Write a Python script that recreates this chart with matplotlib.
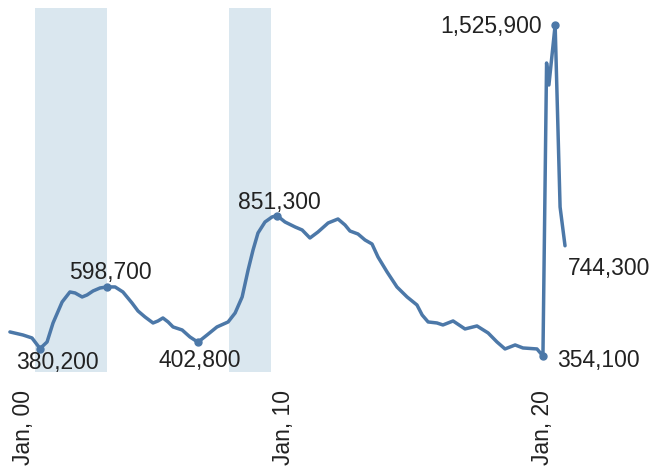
import matplotlib
matplotlib.use("Agg")
import matplotlib.pyplot as plt

# dates as decimal years
dates = [1999.48, 1999.98, 2000.33, 2000.64, 2000.91, 2001.14, 2001.49, 2001.79,
         2001.99, 2002.26, 2002.45, 2002.68, 2002.95, 2003.22, 2003.53, 2003.83,
         2004.18, 2004.41, 2004.68, 2004.99, 2005.18, 2005.37, 2005.57, 2005.76,
         2006.11, 2006.41, 2006.72, 2007.07, 2007.45, 2007.88, 2008.15, 2008.42,
         2008.65, 2008.84, 2009.03, 2009.30, 2009.57, 2009.76, 2010.07, 2010.46,
         2010.73, 2011.03, 2011.34, 2011.73, 2012.11, 2012.38, 2012.57, 2012.88,
         2013.15, 2013.42, 2013.65, 2014.00, 2014.38, 2014.77, 2015.15, 2015.35,
         2015.58, 2015.92, 2016.15, 2016.54, 2017.00, 2017.46, 2017.89, 2018.23,
         2018.54, 2018.93, 2019.23, 2019.77, 2020.00, 2020.14, 2020.23, 2020.47,
         2020.66, 2020.85]
values = [439100, 428400, 417800, 380200, 403700, 470900, 545300, 580700,
          577100, 563000, 570100, 584200, 594800, 598700, 598400, 580700,
          541700, 513400, 492200, 470900, 478000, 488600, 474500, 456800,
          446100, 421400, 402800, 428400, 456800, 474500, 506300, 563000,
          658600, 729400, 789500, 828500, 846200, 851300, 828500, 810800,
          800200, 771800, 793100, 825000, 839100, 817900, 796600, 786000,
          764800, 750600, 704600, 651500, 598400, 563000, 534700, 499200,
          474500, 470900, 463800, 478000, 449700, 460300, 435500, 403700,
          378900, 393000, 382400, 378900, 354100, 1391400, 1313500, 1525900,
          881600, 744300]

# shaded periods (start, end)
bands = [(2000.46, 2003.21), (2007.93, 2009.52)]

tick_years = [2000, 2010, 2020]
tick_labels = ["Jan, 00", "Jan, 10", "Jan, 20"]

# labelled points and their text offsets in pixels (dx, dy, ha)
marked = [380200, 598700, 402800, 851300, 1525900, 354100]
label_style = {
    380200: (17, -20, "center"),
    598700: (3, 8, "center"),
    402800: (2, -25, "center"),
    851300: (2, 7, "center"),
    1525900: (-13, -8, "right"),
    354100: (14, -11, "left"),
    744300: (3, -29, "left"),
}

line_color = "#4C78A8"
band_color = "#dae7ef"
text_color = "#222222"
plt.rcParams["font.family"] = ["Liberation Sans", "DejaVu Sans"]

fig = plt.figure(figsize=(6.68, 4.69), dpi=100)
ax = fig.add_axes([0.01174, 0.20576, 0.84770, 0.77612])

for start, end in bands:
    ax.axvspan(start, end, color=band_color, lw=0, zorder=0)

ax.plot(dates, values, color=line_color, lw=2.5, solid_joinstyle="round",
        solid_capstyle="round", zorder=2)

for v in marked:
    i = values.index(v)
    ax.plot(dates[i], v, "o", color=line_color, ms=5, zorder=3)

for v, (dx, dy, ha) in label_style.items():
    i = values.index(v)
    ax.annotate(f"{v:,}", (dates[i], v), xytext=(dx, dy),
                textcoords="offset pixels", ha=ha, va="baseline",
                fontsize=16.5, color=text_color)

lo, hi = min(values), max(values)
pad = 0.05 * (hi - lo)
ax.set_ylim(lo - pad, hi + pad)
ax.set_xlim(1999.4, 2021.2)

ax.set_xticks(tick_years)
ax.set_xticklabels(tick_labels, rotation=90, fontsize=16.5, color=text_color)
ax.tick_params(axis="x", length=0, pad=12.5)
ax.set_yticks([])
for s in ax.spines.values():
    s.set_visible(False)

fig.savefig("out.png", dpi=100)
